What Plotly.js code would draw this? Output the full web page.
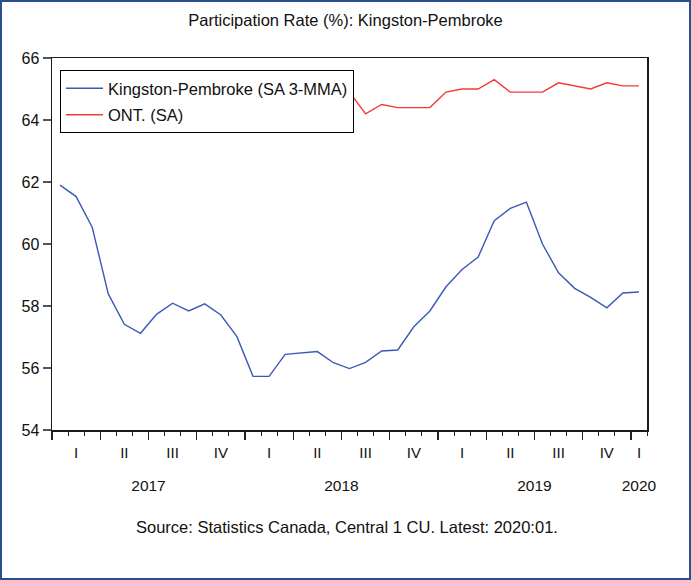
<!DOCTYPE html>
<html>
<head>
<meta charset="utf-8">
<script src="https://cdn.plot.ly/plotly-3.0.1.min.js"></script>
<style>
  html, body { margin: 0; padding: 0; background: #fff; }
  #wrap { position: relative; width: 691px; height: 580px; }
  #chart { position: absolute; left: 0; top: 0; width: 691px; height: 580px; }
  #frame { position: absolute; left: 0; top: 0; width: 691px; height: 580px; box-sizing: border-box;
           border: 2px solid #2b4f8e; pointer-events: none; }
</style>
</head>
<body>
<div id="wrap">
  <div id="chart"></div>
  <div id="frame"></div>
</div>
<script>
// Monthly observations, Jan 2017 .. Jan 2020 (37 months)
const months = [
  "2017-01","2017-02","2017-03","2017-04","2017-05","2017-06","2017-07","2017-08","2017-09","2017-10","2017-11","2017-12",
  "2018-01","2018-02","2018-03","2018-04","2018-05","2018-06","2018-07","2018-08","2018-09","2018-10","2018-11","2018-12",
  "2019-01","2019-02","2019-03","2019-04","2019-05","2019-06","2019-07","2019-08","2019-09","2019-10","2019-11","2019-12",
  "2020-01"
];
const kingstonPembroke = [
  61.90, 61.53, 60.54, 58.39, 57.41, 57.12, 57.73, 58.09, 57.84, 58.07, 57.71, 57.01,
  55.73, 55.73, 56.44, 56.48, 56.53, 56.17, 55.98, 56.18, 56.55, 56.58, 57.33, 57.84,
  58.62, 59.18, 59.58, 60.75, 61.15, 61.35, 60.00, 59.07, 58.57, 58.28, 57.94, 58.42,
  58.45
];
const ontario = [
  65.1, 65.0, 64.9, 64.8, 64.9, 65.0, 64.9, 64.8, 64.9, 64.7, 64.8, 64.9,
  64.8, 64.7, 64.6, 64.6, 64.7, 64.8, 64.9, 64.2, 64.5, 64.4, 64.4, 64.4,
  64.9, 65.0, 65.0, 65.3, 64.9, 64.9, 64.9, 65.2, 65.1, 65.0, 65.2, 65.1,
  65.1
];
const seriesNames = ["Kingston-Pembroke (SA 3-MMA)", "ONT. (SA)"];
const quarterLabels = ["I","II","III","IV"];
const yearLabels = ["2017","2018","2019","2020"];
const yTicks = [54, 56, 58, 60, 62, 64, 66];

const FONT = "Liberation Sans, Arial, sans-serif";
const idx = months.map((m, i) => i);
const n = months.length;
const xr = [-0.5, n - 0.5];

// quarter boundaries (major ticks) and quarter centers (labels)
const qBounds = [];
for (let i = 0; i < n; i += 3) qBounds.push(i - 0.5);
const qCenters = [], qText = [];
for (let i = 0; i < n; i += 3) {
  const last = Math.min(i + 2, n - 1);
  qCenters.push((i + last) / 2);
  const mo = parseInt(months[i].slice(5, 7), 10);
  qText.push(quarterLabels[Math.floor((mo - 1) / 3)]);
}
const yCenters = yearLabels.map(y => {
  const ii = idx.filter(i => months[i].startsWith(y));
  return (ii[0] + ii[ii.length - 1]) / 2;
});

const traces = [
  { x: idx, y: kingstonPembroke, type: "scatter", mode: "lines", name: seriesNames[0],
    legendgroup: "a", line: { color: "#3a5ab6", width: 1.4 }, xaxis: "x", yaxis: "y" },
  { x: idx, y: ontario, type: "scatter", mode: "lines", name: seriesNames[1],
    legendgroup: "b", line: { color: "#f23a3a", width: 1.4 }, xaxis: "x", yaxis: "y" }
];
// invisible helper traces to activate overlay axes
traces.push({ x: [xr[0]], y: [60], xaxis: "x2", yaxis: "y", mode: "markers",
  marker: { opacity: 0 }, showlegend: false, hoverinfo: "skip" });
traces.push({ x: [xr[0]], y: [60], xaxis: "x3", yaxis: "y", mode: "markers",
  marker: { opacity: 0 }, showlegend: false, hoverinfo: "skip" });

const layout = {
  width: 691, height: 580,
  margin: { l: 52, r: 44, t: 58, b: 150 },
  paper_bgcolor: "#ffffff", plot_bgcolor: "#ffffff",
  font: { family: FONT, size: 15, color: "#111" },
  title: { text: "Participation Rate (%): Kingston-Pembroke", x: 0.5, xanchor: "center",
           y: 1 - 20 / 580, yref: "container", yanchor: "middle",
           font: { family: FONT, size: 16.5, color: "#111" } },
  showlegend: true,
  legend: { x: 8 / 595, y: (430 - 70) / 372, xanchor: "left", yanchor: "top",
            bgcolor: "#ffffff", bordercolor: "#000", borderwidth: 1,
            traceorder: "grouped", tracegroupgap: 2, itemwidth: 37,
            entrywidth: 255, entrywidthmode: "pixels",
            font: { family: FONT, size: 16.5, color: "#111" } },
  xaxis: {
    range: xr, showgrid: false, zeroline: false,
    showline: true, linecolor: "#1a1a1a", linewidth: 1.5, mirror: true,
    tickmode: "array", tickvals: qBounds, ticktext: qBounds.map(() => ""),
    ticks: "outside", ticklen: 8, tickcolor: "#222", tickwidth: 1.2,
    minor: { tickmode: "linear", tick0: -0.5, dtick: 1, ticks: "outside", ticklen: 4,
             tickcolor: "#222", tickwidth: 1, showgrid: false }
  },
  xaxis2: {
    range: xr, overlaying: "x", anchor: "y", side: "bottom",
    showgrid: false, zeroline: false, showline: false, ticks: "",
    tickmode: "array", tickvals: qCenters, ticktext: qText,
    ticklabelstandoff: 12, tickfont: { family: FONT, size: 15, color: "#111" }
  },
  xaxis3: {
    range: xr, overlaying: "x", anchor: "y", side: "bottom",
    showgrid: false, zeroline: false, showline: false, ticks: "",
    tickmode: "array", tickvals: yCenters, ticktext: yearLabels,
    ticklabelstandoff: 44, tickfont: { family: FONT, size: 15.5, color: "#111" }
  },
  yaxis: {
    range: [54, 66], showgrid: false, zeroline: false,
    showline: true, linecolor: "#1a1a1a", linewidth: 1.5, mirror: true,
    tickmode: "array", tickvals: yTicks,
    ticks: "outside", ticklen: 8, tickcolor: "#555", tickwidth: 1.2,
    tickfont: { family: FONT, size: 16, color: "#111" }
  },
  annotations: [{
    text: "Source: Statistics Canada, Central 1 CU. Latest: 2020:01.",
    xref: "paper", yref: "paper", x: (347 - 52) / 595, y: (430 - 527) / 372,
    xanchor: "center", yanchor: "middle", showarrow: false,
    font: { family: FONT, size: 16.5, color: "#111" }
  }]
};

Plotly.newPlot("chart", traces, layout, { displayModeBar: false, staticPlot: true });
</script>
</body>
</html>
